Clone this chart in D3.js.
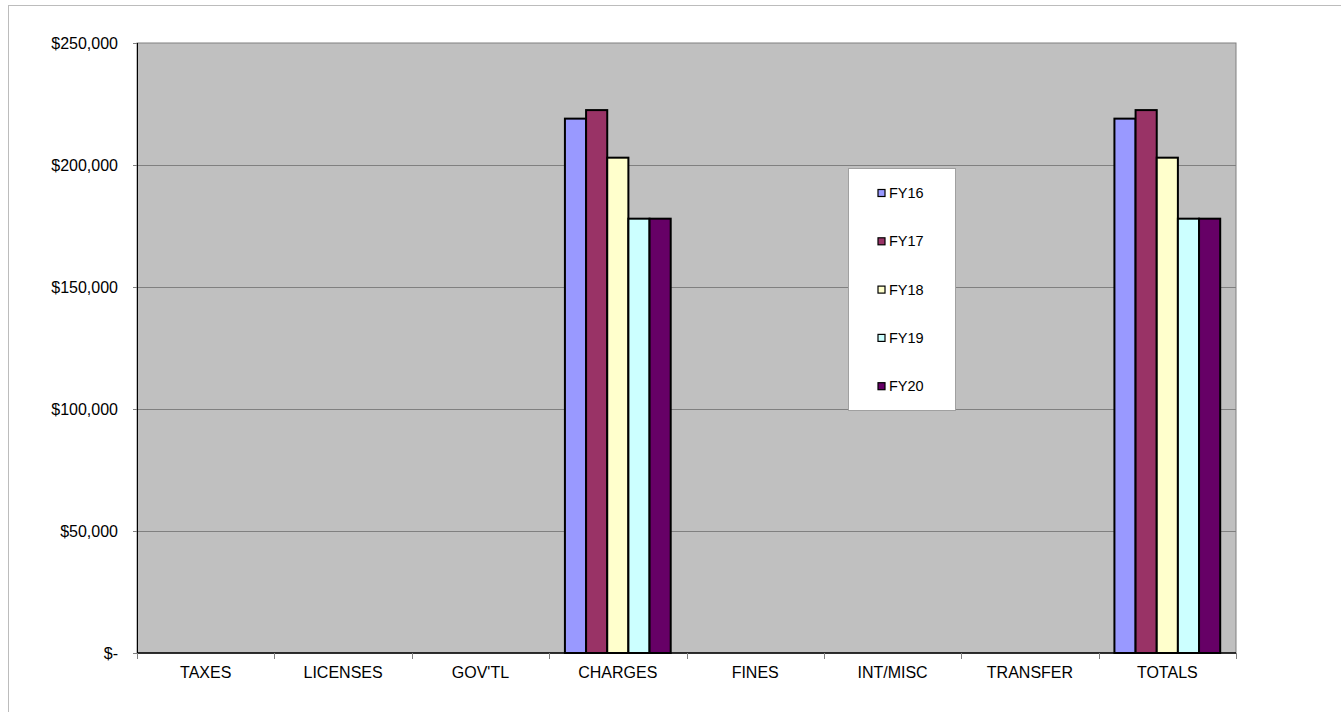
<!DOCTYPE html>
<html>
<head>
<meta charset="utf-8">
<script src="https://cdn.jsdelivr.net/npm/d3@7"></script>
<style>
  body { margin: 0; background: #fff; }
  svg text { font-family: "Liberation Sans", Arial, sans-serif; fill: #000; }
</style>
</head>
<body>
<div id="chart"></div>
<script>
// categories along the bottom
var categories = ["TAXES", "LICENSES", "GOV'TL", "CHARGES", "FINES", "INT/MISC", "TRANSFER", "TOTALS"];
var series = ["FY16", "FY17", "FY18", "FY19", "FY20"];
var colors = ["#9999ff", "#993366", "#ffffcc", "#ccffff", "#660066"];

// values per fiscal year, in category order
var fy16 = [0, 0, 0, 219000, 0, 0, 0, 219000];
var fy17 = [0, 0, 0, 222500, 0, 0, 0, 222500];
var fy18 = [0, 0, 0, 203000, 0, 0, 0, 203000];
var fy19 = [0, 0, 0, 178000, 0, 0, 0, 178000];
var fy20 = [0, 0, 0, 178000, 0, 0, 0, 178000];
var values = [fy16, fy17, fy18, fy19, fy20];

var yTicks = [0, 50000, 100000, 150000, 200000, 250000];

var W = 1341, H = 712;
var margin = {top: 43, right: 105, bottom: 59, left: 137};
var width = W - margin.left - margin.right;
var height = H - margin.top - margin.bottom;

var svg = d3.select("#chart").append("svg")
  .attr("width", W)
  .attr("height", H);

// outer chart frame (only top and left show)
svg.append("rect")
  .attr("x", 8.5).attr("y", 5.5)
  .attr("width", W + 20).attr("height", H + 20)
  .attr("fill", "none")
  .attr("stroke", "#bcbcbc");

var g = svg.append("g").attr("transform", "translate(" + margin.left + "," + margin.top + ")");

var x0 = d3.scaleBand().domain(categories).range([0, width]);
var bw = x0.bandwidth();
var x1 = d3.scaleBand().domain(series).range([bw * 0.115, bw * 0.885]);
var y = d3.scaleLinear().domain([0, 250000]).range([height, 0]);

//grey plot area
g.append("rect")
  .attr("width", width).attr("height", height)
  .attr("fill", "#c0c0c0")
  .attr("stroke", "#808080");

//gridlines
g.selectAll(".grid").data(yTicks.slice(1, -1)).enter().append("line")
  .attr("x1", 0).attr("x2", width)
  .attr("y1", function(d) { return Math.round(y(d)) + 0.5; })
  .attr("y2", function(d) { return Math.round(y(d)) + 0.5; })
  .attr("stroke", "#808080");

//bars
series.forEach(function(s, i) {
  g.selectAll(".bar-" + s)
    .data(categories.map(function(c, j) { return {cat: c, v: values[i][j]}; })
      .filter(function(d) { return d.v > 0; }))
    .enter().append("rect")
    .attr("x", function(d) { return x0(d.cat) + x1(s); })
    .attr("y", function(d) { return y(d.v); })
    .attr("width", x1.bandwidth())
    .attr("height", function(d) { return height - y(d.v); })
    .attr("fill", colors[i])
    .attr("stroke", "#000")
    .attr("stroke-width", 2);
});

//y axis
var yAxis = g.append("g")
  .call(d3.axisLeft(y).tickValues(yTicks).tickSize(4).tickPadding(15)
    .tickFormat(function(d) { return d === 0 ? "$-" : "$" + d3.format(",")(d); }));
yAxis.select(".domain").attr("stroke", "#000").attr("d", "M0.5,0V" + height);
yAxis.selectAll(".tick line").attr("stroke", "#808080");
yAxis.selectAll("text").style("font-size", "16px");

//x axis
var xAxis = g.append("g")
  .attr("transform", "translate(0," + height + ")")
  .call(d3.axisBottom(x0).tickSize(0).tickPadding(14));
xAxis.select(".domain").attr("stroke", "#000").attr("stroke-width", 1.5).attr("d", "M0,0H" + width);
xAxis.selectAll("text").style("font-size", "16px");
xAxis.selectAll(".sep").data(d3.range(categories.length + 1)).enter().append("line")
  .attr("x1", function(d) { return Math.round(d * bw) + 0.5; })
  .attr("x2", function(d) { return Math.round(d * bw) + 0.5; })
  .attr("y1", 0).attr("y2", 6)
  .attr("stroke", "#808080");

//legend
var legend = svg.append("g").attr("transform", "translate(848,168)");
legend.append("rect")
  .attr("x", 0.5).attr("y", 0.5)
  .attr("width", 107).attr("height", 242)
  .attr("fill", "#fff")
  .attr("stroke", "#a0a0a0");
series.forEach(function(s, i) {
  var row = legend.append("g").attr("transform", "translate(0," + (25 + i * 48.3) + ")");
  row.append("rect")
    .attr("x", 30).attr("y", -3.5)
    .attr("width", 7).attr("height", 7)
    .attr("fill", colors[i])
    .attr("stroke", "#000")
    .attr("stroke-width", 1.2);
  row.append("text")
    .attr("x", 41).attr("dy", "0.35em")
    .style("font-size", "14.5px")
    .text(s);
});
</script>
</body>
</html>
